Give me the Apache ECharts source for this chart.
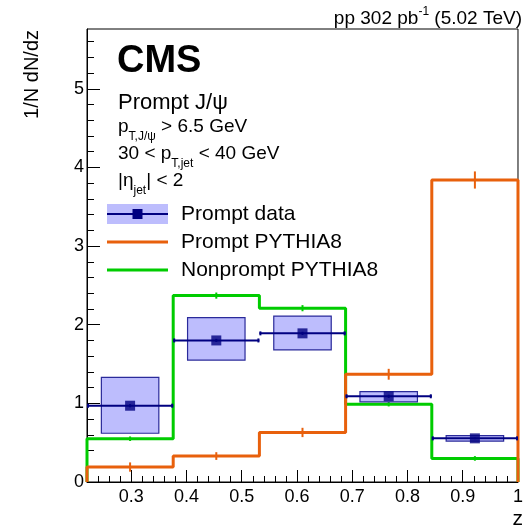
<!DOCTYPE html>
<html>
<head>
<meta charset="utf-8">
<script src="https://cdn.jsdelivr.net/npm/echarts@6/dist/echarts.min.js"></script>
<style>
html,body{margin:0;padding:0;background:#fff;}
#c{width:526px;height:530px;}
</style>
</head>
<body>
<div id="c"></div>
<script>
// ---- data ----
const binEdges = [0.22, 0.376, 0.532, 0.688, 0.844, 1.0];
const dataY = [0.97, 1.80, 1.89, 1.09, 0.555];
const dataStat = [0.02, 0.02, 0.02, 0.02, 0.01];
const systLow = [0.62, 1.55, 1.68, 1.02, 0.52];
const systHigh = [1.33, 2.09, 2.11, 1.15, 0.59];
const promptMC = [0.19, 0.33, 0.63, 1.37, 3.84];
const promptMCErr = [0.04, 0.03, 0.04, 0.05, 0.09];
const nonpromptMC = [0.55, 2.37, 2.21, 0.99, 0.30];
const nonpromptMCErr = [0.01, 0.02, 0.02, 0.01, 0.01];
const xTickLabels = [0.3, 0.4, 0.5, 0.6, 0.7, 0.8, 0.9, 1.0];
const yTickLabels = [0, 1, 2, 3, 4, 5];

const X_MIN = 0.22, X_MAX = 1.0, Y_MIN = 0, Y_MAX = 5.76;
const ORANGE = '#e8600c', GREEN = '#00cc00', NAVY = '#000080', BOXFILL = '#bdbdfd', BOXLINE = '#2a2a9a';
const FONT = '"Liberation Sans", Arial, Helvetica, sans-serif';

const xMinor = [], yMinor = [];
for (let i = 0; i <= 39; i++) xMinor.push(+(0.22 + i * 0.02).toFixed(2));
for (let i = 0; i <= 28; i++) yMinor.push(+(i * 0.2).toFixed(1));

const nb = dataY.length;
const centers = [], halfW = [];
for (let i = 0; i < nb; i++) { centers.push((binEdges[i] + binEdges[i+1]) / 2); halfW.push((binEdges[i+1] - binEdges[i]) / 2); }

function stepPoints(vals) {
  const pts = [[binEdges[0], 0]];
  for (let i = 0; i < vals.length; i++) { pts.push([binEdges[i], vals[i]]); pts.push([binEdges[i+1], vals[i]]); }
  pts.push([binEdges[vals.length], 0]);
  return pts;
}

// ---- text helper ----
const mctx = document.createElement('canvas').getContext('2d');
function textLine(x, yc, segs, align) {
  let widths = segs.map(s => { mctx.font = (s.b ? 'bold ' : '') + s.s + 'px ' + FONT; return mctx.measureText(s.t).width; });
  let total = widths.reduce((a, b) => a + b, 0);
  let cx = align === 'right' ? x - total : x;
  const els = [];
  segs.forEach((s, i) => {
    els.push({ type: 'text', x: cx, y: yc + (s.dy || 0), z: 100,
      style: { text: s.t, fontSize: s.s, fontFamily: FONT, fontWeight: s.b ? 'bold' : 'normal', fill: '#000', align: 'left', verticalAlign: 'middle' } });
    cx += widths[i];
  });
  return els;
}

const graphics = [].concat(
  textLine(522, 19, [{t:'pp 302 pb', s:19}, {t:'-1', s:12, dy:-7}, {t:' (5.02 TeV)', s:19}], 'right'),
  textLine(117, 62, [{t:'CMS', s:38, b:true}]),
  textLine(118, 103, [{t:'Prompt J/\u03c8', s:22}]),
  textLine(118, 127, [{t:'p', s:19}, {t:'T,J/\u03c8', s:12, dy:10}, {t:' > 6.5 GeV', s:19}]),
  textLine(118, 154, [{t:'30 < p', s:19}, {t:'T,jet', s:12, dy:10}, {t:' < 40 GeV', s:19}]),
  textLine(118, 181, [{t:'|\u03b7', s:19}, {t:'jet', s:12, dy:10}, {t:'| < 2', s:19}]),
  textLine(181, 214, [{t:'Prompt data', s:21}]),
  textLine(181, 242, [{t:'Prompt PYTHIA8', s:21}]),
  textLine(181, 270, [{t:'Nonprompt PYTHIA8', s:21}]),
  textLine(523, 519, [{t:'z', s:21}], 'right'),
  [
    { type: 'text', x: 32, y: 30, rotation: Math.PI / 2, z: 100,
      style: { text: '1/N dN/dz', fontSize: 20, fontFamily: FONT, fill: '#000', align: 'right', verticalAlign: 'middle' } },
    // legend symbols
    { type: 'rect', shape: { x: 107, y: 204, width: 61, height: 20 }, style: { fill: BOXFILL }, z: 100 },
    { type: 'line', shape: { x1: 107, y1: 214, x2: 168, y2: 214 }, style: { stroke: NAVY, lineWidth: 2 }, z: 101 },
    { type: 'rect', shape: { x: 132.5, y: 209, width: 10, height: 10 }, style: { fill: NAVY }, z: 102 },
    { type: 'line', shape: { x1: 107, y1: 242, x2: 168, y2: 242 }, style: { stroke: ORANGE, lineWidth: 3 }, z: 100 },
    { type: 'line', shape: { x1: 107, y1: 270, x2: 168, y2: 270 }, style: { stroke: GREEN, lineWidth: 3 }, z: 100 }
  ]
);

const chart = echarts.init(document.getElementById('c'), null, { renderer: 'canvas' });

const axisCommon = { min: X_MIN, max: X_MAX, type: 'value', splitLine: { show: false } };

const option = {
  animation: false,
  backgroundColor: '#fff',
  grid: { left: 87, right: 5, top: 29, bottom: 48, show: true, borderColor: '#000', borderWidth: 1, containLabel: false },
  xAxis: [
    Object.assign({}, axisCommon, {
      position: 'bottom',
      axisLine: { show: true, lineStyle: { color: '#000', width: 1 } },
      axisTick: { show: true, inside: true, length: 12, customValues: xTickLabels, lineStyle: { color: '#000' } },
      axisLabel: { show: true, customValues: xTickLabels, margin: 6, fontSize: 18, fontFamily: FONT, color: '#000',
        formatter: v => String(+(+v).toFixed(2)) }
    }),
    Object.assign({}, axisCommon, {
      position: 'bottom',
      axisLine: { show: false },
      axisTick: { show: true, inside: true, length: 6, customValues: xMinor, lineStyle: { color: '#000' } },
      axisLabel: { show: false }
    })
  ],
  yAxis: [
    {
      type: 'value', min: Y_MIN, max: Y_MAX, position: 'left', splitLine: { show: false },
      axisLine: { show: true, lineStyle: { color: '#000', width: 1 } },
      axisTick: { show: true, inside: true, length: 13, customValues: yTickLabels, lineStyle: { color: '#000' } },
      axisLabel: { show: true, customValues: yTickLabels, margin: 3, fontSize: 18, fontFamily: FONT, color: '#000' }
    },
    {
      type: 'value', min: Y_MIN, max: Y_MAX, position: 'left', splitLine: { show: false },
      axisLine: { show: false },
      axisTick: { show: true, inside: true, length: 7, customValues: yMinor, lineStyle: { color: '#000' } },
      axisLabel: { show: false }
    }
  ],
  graphic: graphics,
  series: [
    { name: 'Nonprompt PYTHIA8', type: 'line', xAxisIndex: 0, yAxisIndex: 0, data: stepPoints(nonpromptMC),
      symbol: 'none', lineStyle: { color: GREEN, width: 3 }, z: 3, clip: true },
    { name: 'Nonprompt err', type: 'custom', xAxisIndex: 0, yAxisIndex: 0, z: 3,
      data: nonpromptMC.map((v, i) => [centers[i], v, nonpromptMCErr[i]]),
      renderItem: (p, api) => {
        const a = api.coord([api.value(0), api.value(1) - api.value(2)]);
        const b = api.coord([api.value(0), api.value(1) + api.value(2)]);
        return { type: 'line', shape: { x1: a[0], y1: a[1] + 1.5, x2: b[0], y2: b[1] - 1.5 }, style: { stroke: GREEN, lineWidth: 2 } };
      } },
    { name: 'Prompt PYTHIA8', type: 'line', xAxisIndex: 0, yAxisIndex: 0, data: stepPoints(promptMC),
      symbol: 'none', lineStyle: { color: ORANGE, width: 3 }, z: 4, clip: true },
    { name: 'Prompt err', type: 'custom', xAxisIndex: 0, yAxisIndex: 0, z: 4,
      data: promptMC.map((v, i) => [centers[i], v, promptMCErr[i]]),
      renderItem: (p, api) => {
        const a = api.coord([api.value(0), api.value(1) - api.value(2)]);
        const b = api.coord([api.value(0), api.value(1) + api.value(2)]);
        return { type: 'line', shape: { x1: a[0], y1: a[1] + 1.5, x2: b[0], y2: b[1] - 1.5 }, style: { stroke: ORANGE, lineWidth: 2 } };
      } },
    { name: 'Prompt data syst', type: 'custom', xAxisIndex: 0, yAxisIndex: 0, z: 5,
      data: dataY.map((v, i) => [centers[i], systLow[i], systHigh[i], halfW[i]]),
      renderItem: (p, api) => {
        const hw = api.value(3) * 2 / 3;
        const tl = api.coord([api.value(0) - hw, api.value(2)]);
        const br = api.coord([api.value(0) + hw, api.value(1)]);
        return { type: 'rect', shape: { x: tl[0], y: tl[1], width: br[0] - tl[0], height: br[1] - tl[1] },
          style: { fill: BOXFILL, stroke: BOXLINE, lineWidth: 1.2 } };
      } },
    { name: 'Prompt data bars', type: 'custom', xAxisIndex: 0, yAxisIndex: 0, z: 6,
      data: dataY.map((v, i) => [centers[i], v, dataStat[i], halfW[i]]),
      renderItem: (p, api) => {
        const c = api.value(0), y = api.value(1), e = api.value(2), hw = api.value(3);
        const l = api.coord([c - hw, y]), r = api.coord([c + hw, y]);
        const lo = api.coord([c, y - e]), hi = api.coord([c, y + e]);
        const st = { stroke: NAVY, lineWidth: 2 };
        return { type: 'group', children: [
          { type: 'line', shape: { x1: l[0], y1: l[1], x2: r[0], y2: r[1] }, style: st },
          { type: 'line', shape: { x1: l[0] + 1, y1: l[1] - 2, x2: l[0] + 1, y2: l[1] + 2 }, style: st },
          { type: 'line', shape: { x1: r[0] - 1, y1: r[1] - 2, x2: r[0] - 1, y2: r[1] + 2 }, style: st },
          { type: 'line', shape: { x1: lo[0], y1: lo[1], x2: hi[0], y2: hi[1] }, style: st }
        ] };
      } },
    { name: 'Prompt data', type: 'scatter', xAxisIndex: 0, yAxisIndex: 0, z: 7,
      data: dataY.map((v, i) => [centers[i], v]),
      symbol: 'rect', symbolSize: 10, itemStyle: { color: NAVY } }
  ]
};
chart.setOption(option);
</script>
</body>
</html>
